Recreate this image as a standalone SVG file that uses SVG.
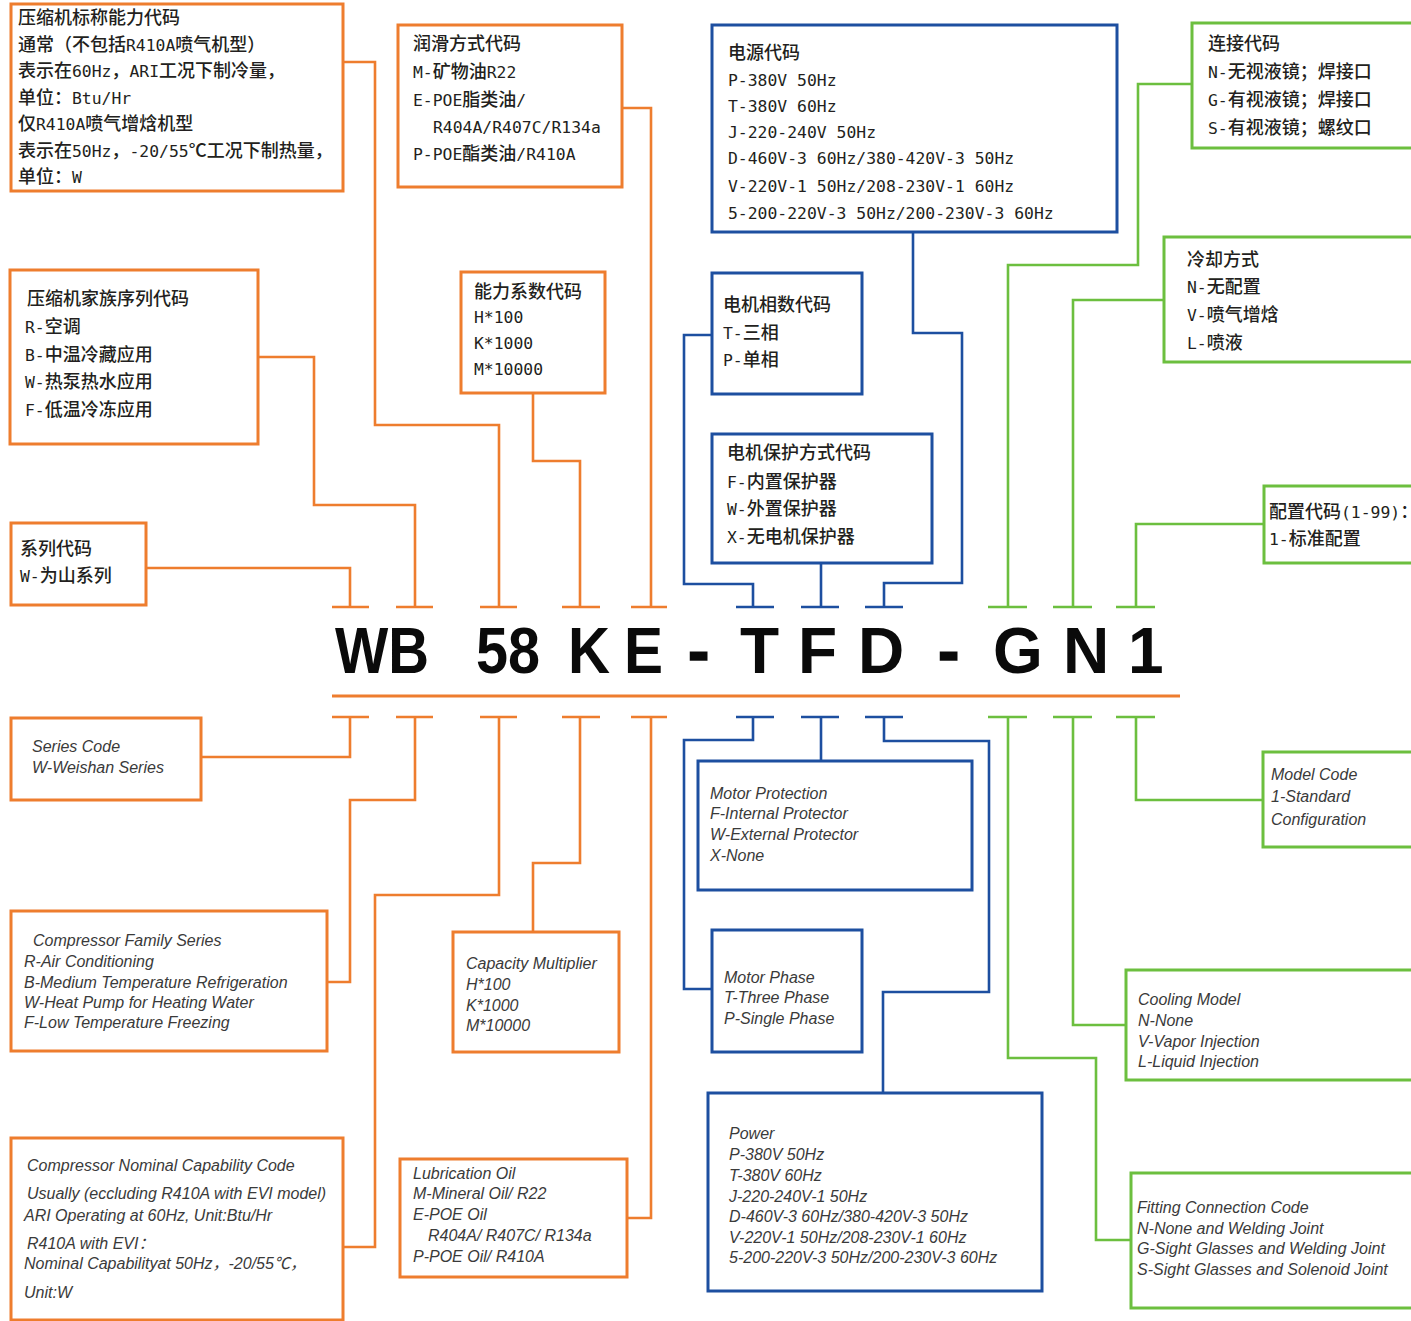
<svg xmlns="http://www.w3.org/2000/svg" width="1411" height="1321" viewBox="0 0 1411 1321">
<style>
.o{stroke:#EE7D2E}
.b{stroke:#1D4FA0}
.g{stroke:#6CBF3F}
.box{fill:#fff;stroke-width:3}
.ln{fill:none;stroke-width:2.6}
.cn{font-family:"Noto Sans CJK SC",sans-serif;font-size:18px;font-weight:500;fill:#231f20}
.m{font-family:"DejaVu Sans Mono","Liberation Mono",monospace;font-size:16.4px;font-weight:normal}
.en{font-family:"Liberation Sans","Noto Sans CJK SC",sans-serif;font-size:16px;font-style:italic;fill:#3a3a3a}
.code{font-family:"Liberation Sans",Arial,sans-serif;font-weight:bold;font-size:64px;fill:#0a0a0a}
</style>
<rect x="0" y="0" width="1411" height="1321" fill="#fff"/>

<g id="connectors">
  <g class="o ln">
    <path d="M146,568 H350 V607"/>
    <path d="M258,357 H314 V505 H415 V607"/>
    <path d="M343,62 H375 V425 H499 V607"/>
    <path d="M533,393 V461 H580 V607"/>
    <path d="M622,108 H651 V607"/>
    <path d="M332,607 H369 M396,607 H433 M480,607 H517 M562,607 H600 M631,607 H667"/>
    <path d="M332,696 H1180" stroke-width="3"/>
    <path d="M332,717 H369 M396,717 H433 M480,717 H517 M562,717 H600 M631,717 H667"/>
    <path d="M201,757 H350 V717"/>
    <path d="M327,982 H350 V800 H415 V717"/>
    <path d="M343,1247 H375 V895 H499 V717"/>
    <path d="M533,932 V863 H580 V717"/>
    <path d="M627,1218 H651 V717"/>
  </g>
  <g class="b ln">
    <path d="M736,607 H774 M801,607 H839 M865,607 H903"/>
    <path d="M712,335 H684 V584 H753 V607"/>
    <path d="M821,563 V607"/>
    <path d="M913,232 V333 H962 V583 H884 V607"/>
    <path d="M736,717 H774 M801,717 H839 M865,717 H903"/>
    <path d="M712,989 H684 V740 H753 V717"/>
    <path d="M821,761 V717"/>
    <path d="M883,1093 V992 H989 V741 H884 V717"/>
  </g>
  <g class="g ln">
    <path d="M988,607 H1027 M1053,607 H1092 M1116,607 H1155"/>
    <path d="M1192,84 H1138 V265 H1008 V607"/>
    <path d="M1164,300 H1073 V607"/>
    <path d="M1264,524 H1136 V607"/>
    <path d="M988,717 H1027 M1053,717 H1092 M1116,717 H1155"/>
    <path d="M1131,1240 H1096 V1058 H1008 V717"/>
    <path d="M1126,1025 H1073 V717"/>
    <path d="M1263,800 H1136 V717"/>
  </g>
</g>

<g id="code">
  <text class="code" x="335" y="673" textLength="94" lengthAdjust="spacingAndGlyphs">WB</text>
  <text class="code" x="476" y="673" textLength="64" lengthAdjust="spacingAndGlyphs">58</text>
  <text class="code" x="568" y="673" textLength="42" lengthAdjust="spacingAndGlyphs">K</text>
  <text class="code" x="624" y="673" textLength="39" lengthAdjust="spacingAndGlyphs">E</text>
  <text class="code" x="688" y="673" stroke="#0a0a0a" stroke-width="1.5">-</text>
  <text class="code" x="740" y="673">T</text>
  <text class="code" x="798" y="673">F</text>
  <text class="code" x="858" y="673">D</text>
  <text class="code" x="938" y="673" stroke="#0a0a0a" stroke-width="1.5">-</text>
  <text class="code" x="993" y="673">G</text>
  <text class="code" x="1063" y="673">N</text>
  <text class="code" x="1128" y="673">1</text>
</g>

<g id="n-capability-cn">
  <rect class="box o" x="11" y="4" width="332" height="187"/>
  <text class="cn" x="18" y="24">压缩机标称能力代码</text>
  <text class="cn" x="18" y="51">通常（不包括<tspan class="m">R410A</tspan>喷气机型）</text>
  <text class="cn" x="18" y="77">表示在<tspan class="m">60Hz</tspan>，<tspan class="m">ARI</tspan>工况下制冷量，</text>
  <text class="cn" x="18" y="104">单位：<tspan class="m">Btu/Hr</tspan></text>
  <text class="cn" x="18" y="130">仅<tspan class="m">R410A</tspan>喷气增焓机型</text>
  <text class="cn" x="18" y="157">表示在<tspan class="m">50Hz</tspan>，<tspan class="m">-20/55</tspan>℃工况下制热量，</text>
  <text class="cn" x="18" y="183">单位：<tspan class="m">W</tspan></text>
</g>

<g id="n-lube-cn">
  <rect class="box o" x="398" y="25" width="224" height="162"/>
  <text class="cn" x="413" y="50">润滑方式代码</text>
  <text class="cn" x="413" y="78"><tspan class="m">M-</tspan>矿物油<tspan class="m">R22</tspan></text>
  <text class="cn" x="413" y="106"><tspan class="m">E-POE</tspan>脂类油<tspan class="m">/</tspan></text>
  <text class="cn m" x="433" y="133">R404A/R407C/R134a</text>
  <text class="cn" x="413" y="160"><tspan class="m">P-POE</tspan>酯类油<tspan class="m">/R410A</tspan></text>
</g>

<g id="n-family-cn">
  <rect class="box o" x="10" y="270" width="248" height="174"/>
  <text class="cn" x="27" y="305">压缩机家族序列代码</text>
  <text class="cn" x="25" y="333"><tspan class="m">R-</tspan>空调</text>
  <text class="cn" x="25" y="361"><tspan class="m">B-</tspan>中温冷藏应用</text>
  <text class="cn" x="25" y="388"><tspan class="m">W-</tspan>热泵热水应用</text>
  <text class="cn" x="25" y="416"><tspan class="m">F-</tspan>低温冷冻应用</text>
</g>

<g id="n-multiplier-cn">
  <rect class="box o" x="461" y="272" width="144" height="121"/>
  <text class="cn" x="474" y="298">能力系数代码</text>
  <text class="cn m" x="474" y="323">H*100</text>
  <text class="cn m" x="474" y="349">K*1000</text>
  <text class="cn m" x="474" y="375">M*10000</text>
</g>

<g id="n-series-cn">
  <rect class="box o" x="11" y="523" width="135" height="82"/>
  <text class="cn" x="20" y="555">系列代码</text>
  <text class="cn" x="20" y="582"><tspan class="m">W-</tspan>为山系列</text>
</g>

<g id="n-power-cn">
  <rect class="box b" x="712" y="25" width="405" height="207"/>
  <text class="cn" x="728" y="59">电源代码</text>
  <text class="cn m" x="728" y="86">P-380V 50Hz</text>
  <text class="cn m" x="728" y="112">T-380V 60Hz</text>
  <text class="cn m" x="728" y="138">J-220-240V 50Hz</text>
  <text class="cn m" x="728" y="164">D-460V-3 60Hz/380-420V-3 50Hz</text>
  <text class="cn m" x="728" y="192">V-220V-1 50Hz/208-230V-1 60Hz</text>
  <text class="cn m" x="728" y="219">5-200-220V-3 50Hz/200-230V-3 60Hz</text>
</g>

<g id="n-phase-cn">
  <rect class="box b" x="712" y="273" width="150" height="121"/>
  <text class="cn" x="723" y="311">电机相数代码</text>
  <text class="cn" x="723" y="339"><tspan class="m">T-</tspan>三相</text>
  <text class="cn" x="723" y="366"><tspan class="m">P-</tspan>单相</text>
</g>

<g id="n-protection-cn">
  <rect class="box b" x="712" y="434" width="220" height="129"/>
  <text class="cn" x="727" y="459">电机保护方式代码</text>
  <text class="cn" x="727" y="488"><tspan class="m">F-</tspan>内置保护器</text>
  <text class="cn" x="727" y="515"><tspan class="m">W-</tspan>外置保护器</text>
  <text class="cn" x="727" y="543"><tspan class="m">X-</tspan>无电机保护器</text>
</g>

<g id="n-connection-cn">
  <rect class="box g" x="1192" y="23" width="240" height="125"/>
  <text class="cn" x="1208" y="50">连接代码</text>
  <text class="cn" x="1208" y="78"><tspan class="m">N-</tspan>无视液镜；焊接口</text>
  <text class="cn" x="1208" y="106"><tspan class="m">G-</tspan>有视液镜；焊接口</text>
  <text class="cn" x="1208" y="134"><tspan class="m">S-</tspan>有视液镜；螺纹口</text>
</g>

<g id="n-cooling-cn">
  <rect class="box g" x="1164" y="237" width="260" height="125"/>
  <text class="cn" x="1187" y="266">冷却方式</text>
  <text class="cn" x="1187" y="293"><tspan class="m">N-</tspan>无配置</text>
  <text class="cn" x="1187" y="321"><tspan class="m">V-</tspan>喷气增焓</text>
  <text class="cn" x="1187" y="349"><tspan class="m">L-</tspan>喷液</text>
</g>

<g id="n-model-cn">
  <rect class="box g" x="1264" y="486" width="160" height="77"/>
  <text class="cn" x="1269" y="518">配置代码<tspan class="m">(1-99)</tspan>：</text>
  <text class="cn" x="1269" y="545"><tspan class="m">1-</tspan>标准配置</text>
</g>

<g id="n-series-en">
  <rect class="box o" x="11" y="718" width="190" height="82"/>
  <text class="en" x="32" y="751.5">Series Code</text>
  <text class="en" x="32" y="772.5">W-Weishan Series</text>
</g>

<g id="n-family-en">
  <rect class="box o" x="11" y="911" width="316" height="140"/>
  <text class="en" x="33" y="945.5">Compressor Family Series</text>
  <text class="en" x="24" y="966.5">R-Air Conditioning</text>
  <text class="en" x="24" y="987.5">B-Medium Temperature Refrigeration</text>
  <text class="en" x="24" y="1007.5">W-Heat Pump for Heating Water</text>
  <text class="en" x="24" y="1027.5">F-Low Temperature Freezing</text>
</g>

<g id="n-capability-en">
  <rect class="box o" x="11" y="1138" width="332" height="182"/>
  <text class="en" x="27" y="1170.5">Compressor Nominal Capability Code</text>
  <text class="en" x="27" y="1198.5">Usually (eccluding R410A with EVI model)</text>
  <text class="en" x="24" y="1220.5">ARI Operating at 60Hz, Unit:Btu/Hr</text>
  <text class="en" x="27" y="1248.5">R410A with EVI：</text>
  <text class="en" x="24" y="1268.5">Nominal Capabilityat 50Hz，-20/55℃，</text>
  <text class="en" x="24" y="1297.5">Unit:W</text>
</g>

<g id="n-multiplier-en">
  <rect class="box o" x="453" y="932" width="166" height="120"/>
  <text class="en" x="466" y="968.5">Capacity Multiplier</text>
  <text class="en" x="466" y="989.5">H*100</text>
  <text class="en" x="466" y="1010.5">K*1000</text>
  <text class="en" x="466" y="1030.5">M*10000</text>
</g>

<g id="n-lube-en">
  <rect class="box o" x="400" y="1159" width="227" height="118"/>
  <text class="en" x="413" y="1178.5">Lubrication Oil</text>
  <text class="en" x="413" y="1198.5">M-Mineral Oil/ R22</text>
  <text class="en" x="413" y="1219.5">E-POE Oil</text>
  <text class="en" x="428" y="1240.5">R404A/ R407C/ R134a</text>
  <text class="en" x="413" y="1261.5">P-POE Oil/ R410A</text>
</g>

<g id="n-protection-en">
  <rect class="box b" x="698" y="761" width="274" height="129"/>
  <text class="en" x="710" y="798.5">Motor Protection</text>
  <text class="en" x="710" y="818.5">F-Internal Protector</text>
  <text class="en" x="710" y="839.5">W-External Protector</text>
  <text class="en" x="710" y="860.5">X-None</text>
</g>

<g id="n-phase-en">
  <rect class="box b" x="712" y="930" width="150" height="122"/>
  <text class="en" x="724" y="982.5">Motor Phase</text>
  <text class="en" x="724" y="1002.5">T-Three Phase</text>
  <text class="en" x="724" y="1023.5">P-Single Phase</text>
</g>

<g id="n-power-en">
  <rect class="box b" x="708" y="1093" width="334" height="198"/>
  <text class="en" x="729" y="1138.5">Power</text>
  <text class="en" x="729" y="1159.5">P-380V 50Hz</text>
  <text class="en" x="729" y="1180.5">T-380V 60Hz</text>
  <text class="en" x="729" y="1201.5">J-220-240V-1 50Hz</text>
  <text class="en" x="729" y="1221.5">D-460V-3 60Hz/380-420V-3 50Hz</text>
  <text class="en" x="729" y="1242.5">V-220V-1 50Hz/208-230V-1 60Hz</text>
  <text class="en" x="729" y="1262.5">5-200-220V-3 50Hz/200-230V-3 60Hz</text>
</g>

<g id="n-model-en">
  <rect class="box g" x="1263" y="752" width="160" height="95"/>
  <text class="en" x="1271" y="779.5">Model Code</text>
  <text class="en" x="1271" y="801.5">1-Standard</text>
  <text class="en" x="1271" y="824.5">Configuration</text>
</g>

<g id="n-cooling-en">
  <rect class="box g" x="1126" y="970" width="300" height="110"/>
  <text class="en" x="1138" y="1004.5">Cooling Model</text>
  <text class="en" x="1138" y="1025.5">N-None</text>
  <text class="en" x="1138" y="1046.5">V-Vapor Injection</text>
  <text class="en" x="1138" y="1066.5">L-Liquid Injection</text>
</g>

<g id="n-connection-en">
  <rect class="box g" x="1131" y="1173" width="300" height="135"/>
  <text class="en" x="1137" y="1212.5">Fitting Connection Code</text>
  <text class="en" x="1137" y="1233.5">N-None and Welding Joint</text>
  <text class="en" x="1137" y="1253.5">G-Sight Glasses and Welding Joint</text>
  <text class="en" x="1137" y="1274.5">S-Sight Glasses and Solenoid Joint</text>
</g>
</svg>
